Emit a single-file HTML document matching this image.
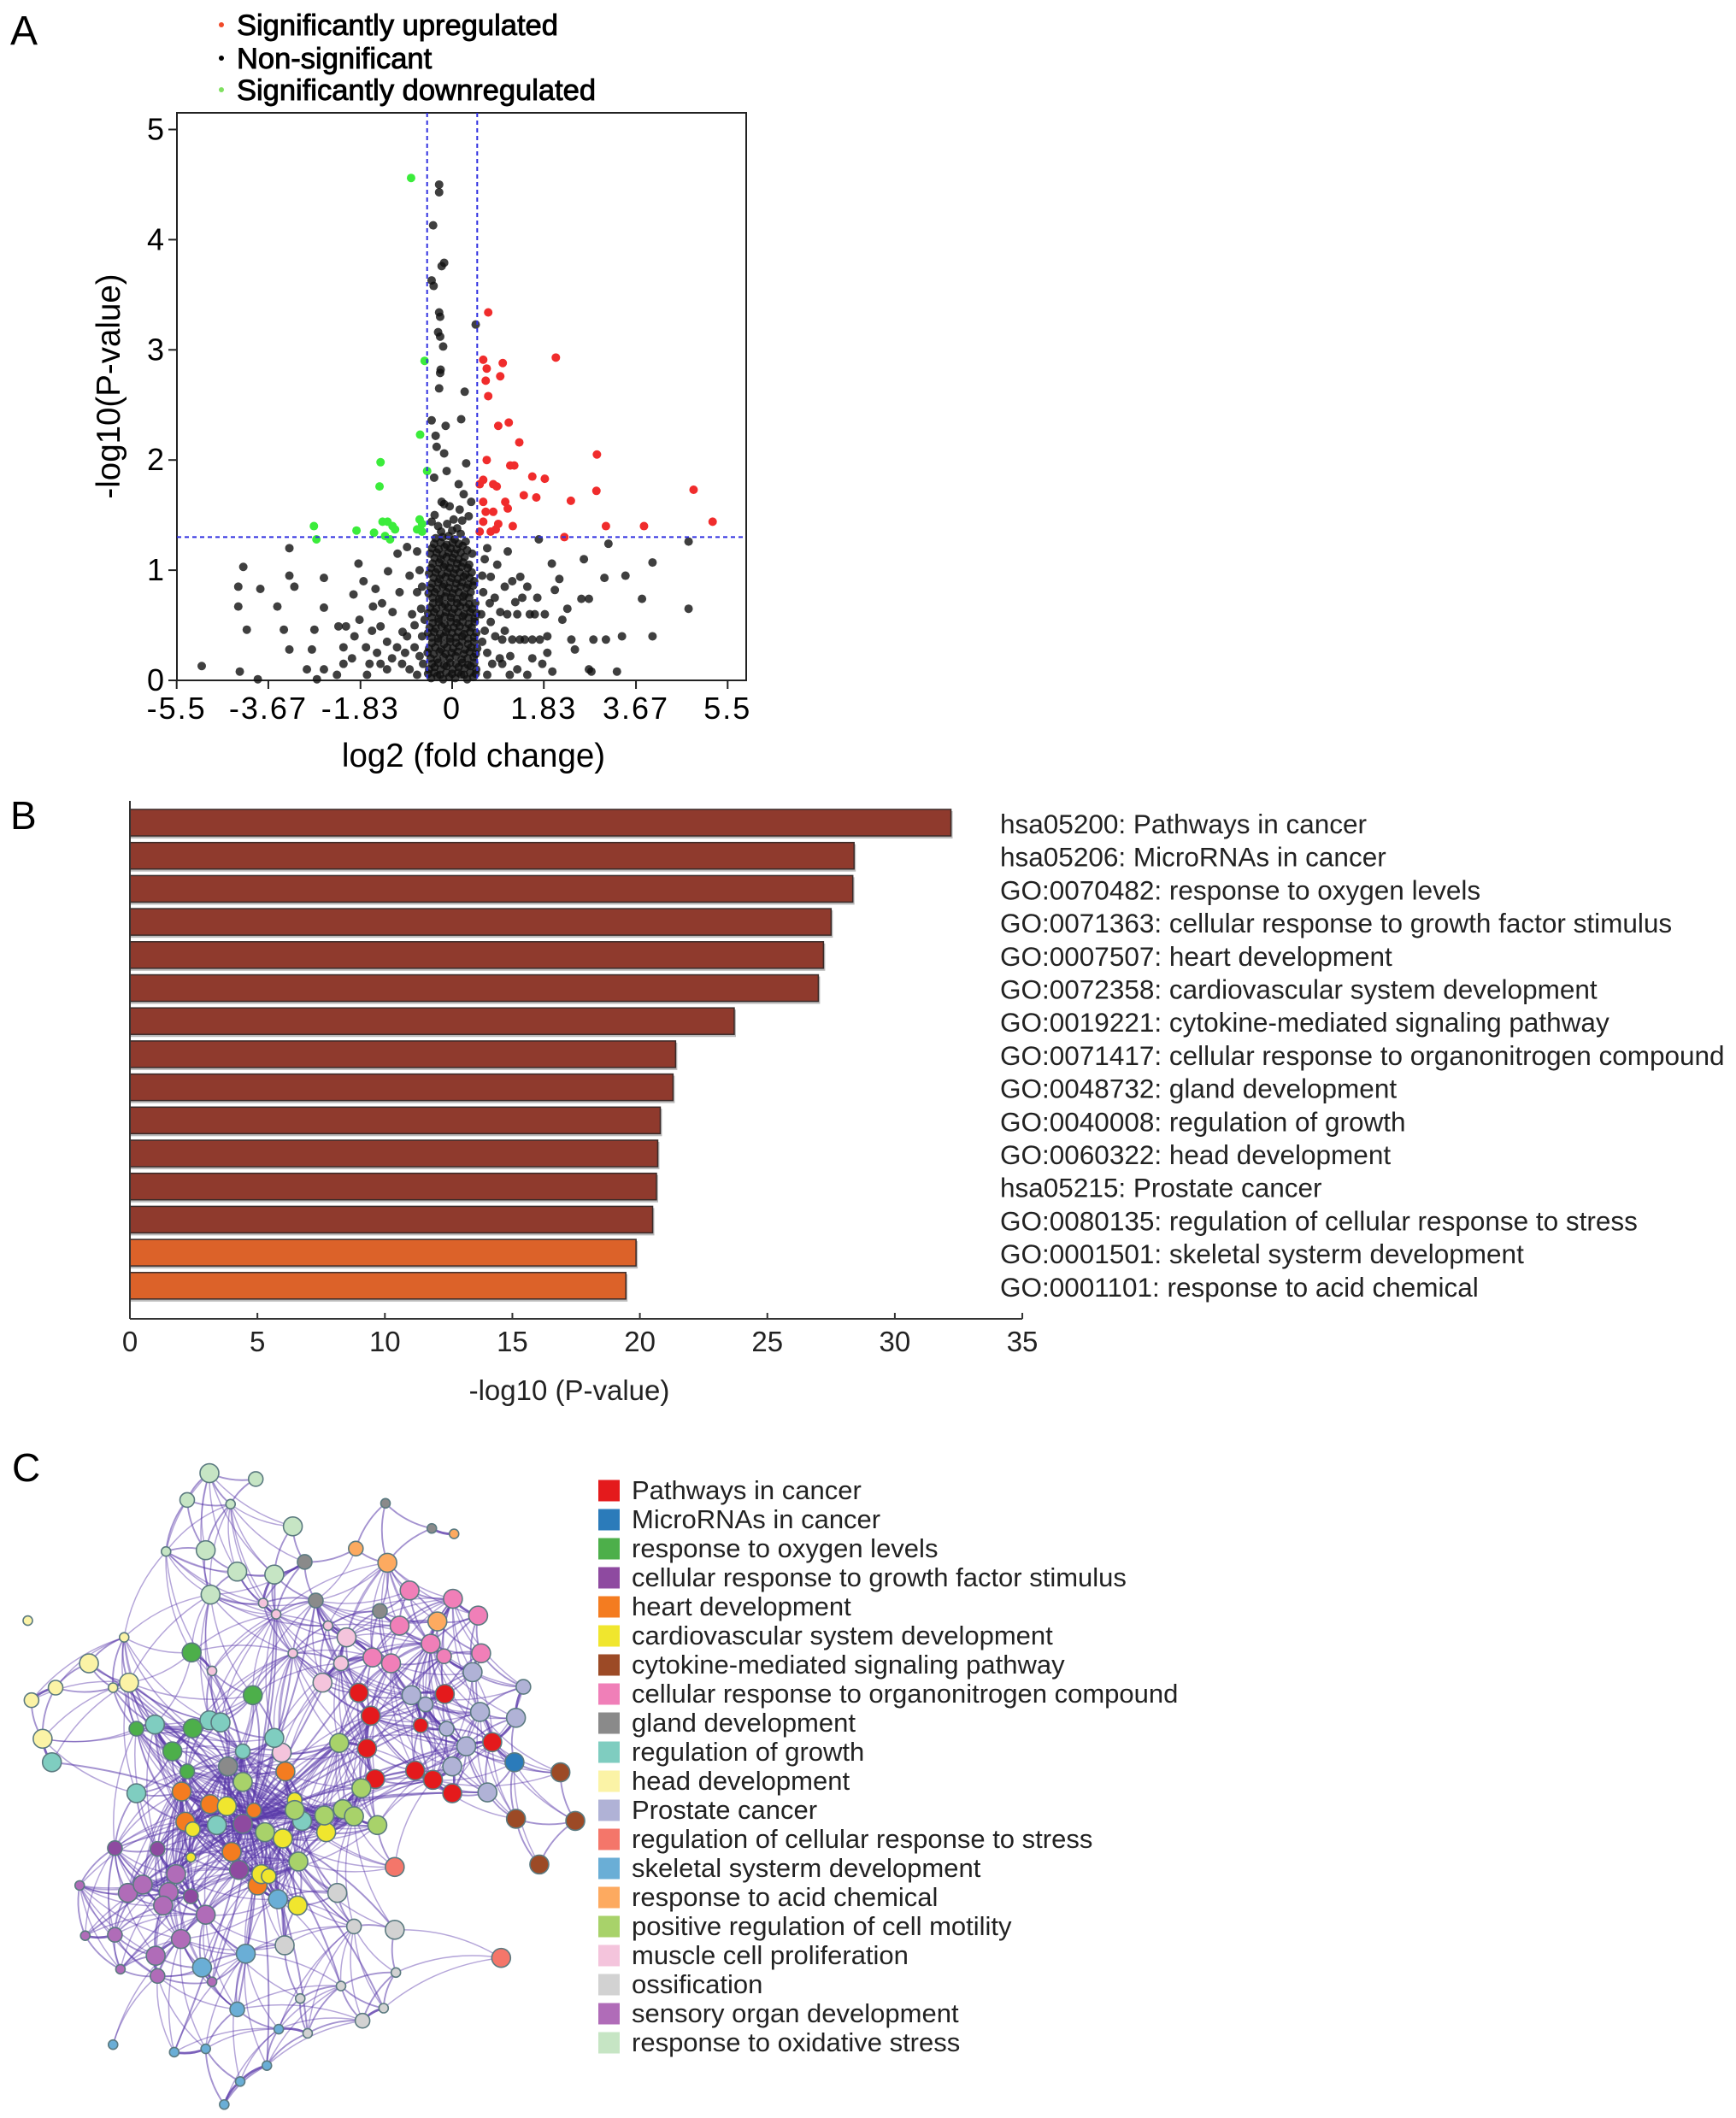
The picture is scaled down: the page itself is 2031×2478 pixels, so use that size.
<!DOCTYPE html>
<html><head><meta charset="utf-8">
<style>
html,body{margin:0;padding:0;background:#fff;}
svg{display:block;font-family:"Liberation Sans",Arial,sans-serif;}
</style></head>
<body>
<svg id="fig" width="2031" height="2478" viewBox="0 0 2031 2478" xmlns="http://www.w3.org/2000/svg">
<g id="panelA">
<text x="12" y="52" font-size="48">A</text>
<g>
<circle cx="259" cy="29" r="3" fill="#f04a2a"/>
<text x="277" y="41" font-size="34.5" stroke="#000" stroke-width="0.9">Significantly upregulated</text>
<circle cx="259" cy="68" r="3" fill="#000"/>
<text x="277" y="80" font-size="34.5" stroke="#000" stroke-width="0.9">Non-significant</text>
<circle cx="259" cy="105" r="3" fill="#7fe060"/>
<text x="277" y="117" font-size="34.5" stroke="#000" stroke-width="0.9">Significantly downregulated</text>
</g>
<g id="volcano"></g>
</g>
<g id="panelB">
<text x="12" y="970" font-size="46">B</text>
<g id="bars"></g>
</g>
<g id="panelC">
<text x="14" y="1733" font-size="46">C</text>
<g id="net"></g>
<g id="netlegend"></g>
</g>
</svg>
<script>
const NS="http://www.w3.org/2000/svg";
function mk(tag,attrs,parent){const e=document.createElementNS(NS,tag);for(const k in attrs)e.setAttribute(k,attrs[k]);parent.appendChild(e);return e;}

/* ---------- Panel A data ---------- */
const xTicks=[-5.5,-3.67,-1.83,0,1.83,3.67,5.5];
const yTicks=[0,1,2,3,4,5];
const fcThreshold=0.5;
const pThreshold=1.3;
const upPoints=[[0.72,3.34],[0.62,2.91],[0.69,2.83],[0.67,2.72],[0.72,2.58],[1.01,2.88],[0.96,2.76],[2.07,2.93],[0.92,2.31],[1.13,2.34],[1.34,2.16],[0.69,2.0],[1.16,1.95],[1.24,1.95],[0.62,1.82],[0.55,1.78],[0.82,1.78],[0.89,1.76],[1.6,1.85],[1.85,1.83],[2.89,2.05],[2.88,1.72],[1.43,1.68],[1.68,1.66],[2.37,1.63],[0.62,1.62],[1.06,1.62],[1.11,1.56],[0.67,1.53],[0.82,1.53],[1.21,1.4],[0.92,1.42],[0.87,1.37],[0.77,1.35],[3.07,1.4],[3.83,1.4],[4.82,1.73],[5.2,1.44],[2.24,1.3],[0.62,1.44],[0.55,1.35]];
const downPoints=[[-0.82,4.56],[-0.55,2.9],[-0.64,2.23],[-1.43,1.98],[-1.45,1.76],[-0.5,1.9],[-0.65,1.46],[-0.6,1.42],[-2.76,1.4],[-2.71,1.28],[-1.91,1.36],[-1.56,1.34],[-1.39,1.44],[-1.29,1.44],[-1.19,1.4],[-1.14,1.37],[-1.34,1.31],[-1.24,1.28],[-0.7,1.37],[-0.6,1.35]];
const nsPoints=[[-0.26,4.5],[-0.26,4.43],[-0.38,4.13],[-0.16,3.79],[-0.21,3.76],[-0.41,3.63],[-0.37,3.58],[-0.26,3.34],[-0.24,3.3],[0.47,3.23],[-0.28,3.16],[-0.24,3.12],[-0.18,3.03],[-0.23,2.82],[-0.24,2.79],[-0.26,2.65],[0.25,2.62],[-0.41,2.36],[0.18,2.37],[-0.13,2.31],[-0.33,2.22],[-0.31,2.12],[-0.16,2.06],[0.28,1.97],[-0.11,1.9],[-0.36,1.84],[0.13,1.78],[0.23,1.69],[-0.21,1.62],[-0.16,1.6],[0.38,1.62],[0.03,1.46],[0.33,1.49],[-0.41,1.44],[0.15,1.55],[-0.05,1.58],
[1.73,1.28],[3.12,1.24],[4.72,1.26],[2.63,1.1],[4.0,1.07],[3.46,0.95],[3.04,0.93],[1.99,1.06],[2.14,0.92],[2.58,0.74],[2.73,0.74],[3.79,0.74],[4.72,0.65],[2.38,0.37],[2.82,0.37],[3.07,0.37],[3.39,0.4],[4.0,0.4],[2.73,0.1],[2.78,0.08],[3.29,0.08],[2.0,0.08],[1.36,0.94],[1.5,0.85],[1.26,0.71],[1.65,0.6],[1.85,0.6],[1.45,0.37],[1.75,0.37],[0.86,0.4],[1.16,0.22],[0.96,0.62],[0.77,0.94],[1.11,1.17],[0.62,0.8],[0.77,0.53],[1.0,0.15],[1.3,0.6],[1.55,0.6],[1.2,0.37],[1.6,0.2],[0.7,0.25],[0.9,1.05],[1.4,0.75],[1.9,0.4],[2.2,0.55],[2.45,0.28],[1.05,0.45],[0.65,1.1],[0.85,0.75],[2.05,0.82],[1.8,0.15],[0.58,0.6],[0.6,0.35],[0.7,0.05],
[1.0,0.37],[1.1,0.6],[1.6,0.37],[1.35,0.37],[0.95,0.2],[1.3,0.1],[1.5,0.05],[0.8,0.15],[0.65,0.45],[0.75,0.7],[1.05,0.85],[0.6,0.95],[0.7,1.2],[1.2,0.9],[1.7,0.75],[2.3,0.65],[1.9,0.25],[1.15,0.05],
[-3.25,1.2],[-4.17,1.03],[-4.27,0.85],[-4.27,0.67],[-4.1,0.46],[-3.83,0.83],[-3.49,0.67],[-3.36,0.46],[-3.25,0.95],[-3.15,0.85],[-3.25,0.28],[-5.0,0.13],[-4.24,0.08],[-3.88,0.01],[-2.56,0.93],[-2.56,0.66],[-2.8,0.28],[-2.7,0.01],[-2.9,0.1],[-2.75,0.46],[-2.27,0.49],[-2.12,0.49],[-2.17,0.3],[-1.87,1.06],[-1.97,0.78],[-1.77,0.9],[-1.53,0.83],[-1.28,0.99],[-1.09,1.15],[-0.9,1.21],[-0.7,1.17],[-1.58,0.67],[-1.43,0.49],[-1.19,0.62],[-0.99,0.44],[-1.72,0.3],[-2.17,0.15],[-2.56,0.1],[-1.43,0.15],[-0.94,0.25],[-0.7,0.8],[-0.8,0.6],[-1.85,0.55],[-1.3,0.35],[-0.6,0.4],[-0.65,1.0],[-1.05,0.8],[-1.6,0.45],[-0.85,0.1],[-1.1,0.3],[-2.0,0.2],[-1.7,0.05],[-0.75,0.3],[-1.3,0.1],[-0.58,0.15],[-0.62,0.65],
[-0.7,0.05],[-0.65,0.22],[-0.9,0.4],[-1.0,0.15],[-0.6,0.85],[-0.75,0.5],[-1.2,0.2],[-1.5,0.25],[-0.55,0.55],[-0.85,0.95],[-1.4,0.7],[-1.65,0.15],[-2.3,0.05],[-1.95,0.4],
[-0.42,0.02],[-0.3,0.04],[-0.18,0.01],[-0.06,0.03],[0.06,0.02],[0.18,0.05],[0.3,0.01],[0.42,0.03],
[-0.46,0.1],[-0.35,0.12],[-0.23,0.1],[-0.11,0.13],[0.01,0.1],[0.13,0.12],[0.25,0.11],[0.37,0.13],[0.48,0.1],
[-0.43,0.2],[-0.3,0.19],[-0.17,0.21],[-0.05,0.2],[0.07,0.22],[0.19,0.19],[0.31,0.2],[0.43,0.21],
[-0.46,0.29],[-0.34,0.3],[-0.22,0.28],[-0.1,0.3],[0.02,0.29],[0.14,0.31],[0.26,0.28],[0.38,0.3],[0.5,0.29],
[-0.41,0.39],[-0.28,0.38],[-0.16,0.4],[-0.04,0.38],[0.08,0.39],[0.2,0.4],[0.32,0.38],[0.44,0.39],
[-0.45,0.48],[-0.33,0.47],[-0.21,0.49],[-0.09,0.47],[0.03,0.48],[0.15,0.49],[0.27,0.47],[0.39,0.48],
[-0.4,0.57],[-0.27,0.56],[-0.15,0.58],[-0.03,0.57],[0.09,0.56],[0.21,0.58],[0.33,0.57],[0.45,0.56],
[-0.44,0.66],[-0.32,0.65],[-0.2,0.67],[-0.08,0.66],[0.04,0.65],[0.16,0.67],[0.28,0.66],[0.4,0.65],
[-0.39,0.75],[-0.26,0.74],[-0.14,0.76],[-0.02,0.75],[0.1,0.74],[0.22,0.76],[0.34,0.75],
[-0.43,0.84],[-0.31,0.83],[-0.19,0.85],[-0.07,0.84],[0.05,0.83],[0.17,0.85],[0.29,0.84],[0.42,0.86],
[-0.37,0.93],[-0.25,0.92],[-0.13,0.94],[-0.01,0.93],[0.11,0.92],[0.23,0.94],[0.35,0.93],
[-0.42,1.02],[-0.29,1.01],[-0.17,1.03],[-0.05,1.02],[0.07,1.01],[0.19,1.03],[0.31,1.02],
[-0.35,1.11],[-0.23,1.1],[-0.11,1.12],[0.01,1.11],[0.13,1.1],[0.25,1.12],[0.4,1.15],
[-0.4,1.2],[-0.27,1.19],[-0.15,1.21],[-0.03,1.2],[0.09,1.19],[0.21,1.22],
[-0.33,1.29],[-0.19,1.3],[-0.07,1.31],[0.05,1.28],[0.17,1.33],[-0.28,1.4],[-0.1,1.42],[0.1,1.38],
[-0.48,0.06],[-0.36,0.07],[-0.24,0.05],[-0.12,0.07],[0.0,0.06],[0.12,0.07],[0.24,0.05],[0.36,0.07],[0.47,0.06],
[-0.4,0.15],[-0.28,0.16],[-0.16,0.14],[-0.04,0.16],[0.08,0.15],[0.2,0.16],[0.32,0.14],[0.44,0.16],
[-0.49,0.25],[-0.37,0.24],[-0.25,0.26],[-0.13,0.24],[-0.01,0.25],[0.11,0.26],[0.23,0.24],[0.35,0.26],[0.47,0.24],
[-0.4,0.34],[-0.28,0.35],[-0.16,0.33],[-0.04,0.35],[0.08,0.34],[0.2,0.35],[0.32,0.33],[0.44,0.35],
[-0.48,0.43],[-0.36,0.44],[-0.24,0.42],[-0.12,0.44],[0.0,0.43],[0.12,0.44],[0.24,0.42],[0.36,0.44],[0.48,0.43],
[-0.39,0.52],[-0.27,0.53],[-0.15,0.51],[-0.03,0.53],[0.09,0.52],[0.21,0.53],[0.33,0.51],[0.45,0.53],
[-0.48,0.61],[-0.36,0.62],[-0.24,0.6],[-0.12,0.62],[0.0,0.61],[0.12,0.62],[0.24,0.6],[0.36,0.62],[0.48,0.61],
[-0.38,0.7],[-0.26,0.71],[-0.14,0.69],[-0.02,0.71],[0.1,0.7],[0.22,0.71],[0.34,0.69],[0.46,0.7],
[-0.47,0.79],[-0.35,0.8],[-0.23,0.78],[-0.11,0.8],[0.01,0.79],[0.13,0.8],[0.25,0.78],[0.37,0.8],
[-0.4,0.88],[-0.28,0.89],[-0.16,0.87],[-0.04,0.89],[0.08,0.88],[0.2,0.89],[0.32,0.87],[0.44,0.9],
[-0.46,0.97],[-0.33,0.98],[-0.21,0.96],[-0.09,0.98],[0.03,0.97],[0.15,0.98],[0.27,0.96],[0.39,0.98],
[-0.39,1.06],[-0.26,1.07],[-0.14,1.05],[-0.02,1.07],[0.1,1.06],[0.22,1.07],[0.34,1.05],
[-0.44,1.15],[-0.31,1.16],[-0.19,1.14],[-0.07,1.16],[0.05,1.15],[0.17,1.16],[0.3,1.18],
[-0.36,1.24],[-0.23,1.25],[-0.11,1.23],[0.01,1.25],[0.13,1.24],[0.27,1.26],[-0.22,1.35],[0.0,1.36],[-0.35,1.5],[0.2,1.45]];

const X=v=>206.7+(v+5.5)/11*644.6;
const Y=v=>796-v*128.9;
const vol=document.getElementById('volcano');
const frame=mk('rect',{x:207,y:132,width:666,height:664,fill:'none',stroke:'#222','stroke-width':2},vol);


xTicks.forEach((t,i)=>{
  const l=mk('line',{x1:X(t),x2:X(t),y1:796,y2:806,stroke:'#222','stroke-width':2},vol);
  
  
  const tx=mk('text',{x:X(t),y:841,'font-size':36,'text-anchor':'middle','letter-spacing':'2'},vol);
  tx.textContent=String(t);
  
  
});
yTicks.forEach(t=>{
  const l=mk('line',{x1:197,x2:207,y1:Y(t),y2:Y(t),stroke:'#222','stroke-width':2},vol);
  
  
  const tx=mk('text',{x:192,y:Y(t)+12,'font-size':36,'text-anchor':'end'},vol);
  tx.textContent=String(t);
  
  
});
const xt=mk('text',{x:554,y:897,'font-size':38.5,'text-anchor':'middle'},vol);
xt.textContent='log2 (fold change)';


const yt=mk('text',{x:0,y:0,'font-size':38.5,'text-anchor':'middle',transform:'translate(140,452) rotate(-90)'},vol);
yt.textContent='-log10(P-value)';


function dot(p,color,name){
  const c=mk('circle',{cx:X(p[0]),cy:Y(p[1]),r:5,fill:color},vol);
  
  
}
nsPoints.forEach(p=>dot(p,'rgba(15,15,15,0.8)','nonsignificant-point'));
upPoints.forEach(p=>dot(p,'#f02c2c','upregulated-point'));
downPoints.forEach(p=>dot(p,'#3bec3b','downregulated-point'));
[-fcThreshold,fcThreshold].forEach(t=>{
  const l=mk('line',{x1:X(t),x2:X(t),y1:132,y2:796,stroke:'#3030e0','stroke-width':2,'stroke-dasharray':'5,4'},vol);
  
  
});
const hl=mk('line',{x1:207,x2:873,y1:Y(pThreshold),y2:Y(pThreshold),stroke:'#3030e0','stroke-width':2,'stroke-dasharray':'5,4'},vol);



/* ---------- Panel B data ---------- */
const termLabels=["hsa05200: Pathways in cancer","hsa05206: MicroRNAs in cancer","GO:0070482: response to oxygen levels","GO:0071363: cellular response to growth factor stimulus","GO:0007507: heart development","GO:0072358: cardiovascular system development","GO:0019221: cytokine-mediated signaling pathway","GO:0071417: cellular response to organonitrogen compound","GO:0048732: gland development","GO:0040008: regulation of growth","GO:0060322: head development","hsa05215: Prostate cancer","GO:0080135: regulation of cellular response to stress","GO:0001501: skeletal systerm development","GO:0001101: response to acid chemical"];
const termValues=[32.2,28.4,28.35,27.5,27.2,27.0,23.7,21.4,21.3,20.8,20.7,20.65,20.5,19.85,19.45];
const barTicks=[0,5,10,15,20,25,30,35];
const BX=v=>152+v*29.83;
const bars=document.getElementById('bars');
termValues.forEach((v,i)=>{
  const y=947+i*38.7;
  const col=i>=13?'#dc6229':'#8f3a2d';
  const sh=mk('rect',{x:152,y:y+2,width:BX(v)-152+2,height:32,fill:'#bbb'},bars);
  
  
  const r=mk('rect',{x:152,y:y,width:BX(v)-152,height:31,fill:col,stroke:'#3a2a28','stroke-width':1.5},bars);
  
  
  const t=mk('text',{x:1170,y:y+28,'font-size':31.5,fill:'#222'},bars);
  t.textContent=termLabels[i];
  
  
});
const yax=mk('line',{x1:152,x2:152,y1:937,y2:1543,stroke:'#333','stroke-width':2},bars);


const xax=mk('line',{x1:152,x2:BX(35),y1:1543,y2:1543,stroke:'#333','stroke-width':2},bars);


barTicks.forEach(t=>{
  const l=mk('line',{x1:BX(t),x2:BX(t),y1:1536,y2:1543,stroke:'#333','stroke-width':2},bars);
  
  
  const tx=mk('text',{x:BX(t),y:1581,'font-size':33,'text-anchor':'middle',fill:'#222'},bars);
  tx.textContent=String(t);
  
  
});
const bt=mk('text',{x:666,y:1638,'font-size':33,'text-anchor':'middle',fill:'#222'},bars);
bt.textContent='-log10 (P-value)';



/* ---------- Panel C ---------- */
const clusterNames=["Pathways in cancer","MicroRNAs in cancer","response to oxygen levels","cellular response to growth factor stimulus","heart development","cardiovascular system development","cytokine-mediated signaling pathway","cellular response to organonitrogen compound","gland development","regulation of growth","head development","Prostate cancer","regulation of cellular response to stress","skeletal systerm development","response to acid chemical","positive regulation of cell motility","muscle cell proliferation","ossification","sensory organ development","response to oxidative stress"];
const clusterColors=["#e41a1c","#2b7bba","#4daf4a","#8e4aa0","#f47c20","#f0e62e","#9c4a26","#f07fb8","#8a8a8a","#7fcdc0","#fbf3a6","#b0b2d6","#f4766a","#6aaed6","#fdaa60","#a8d26a","#f4c4dc","#d2d2d2","#b06cb8","#c6e5c4"];
const nodes=[
[565,48,19,'L'],[690,62,19,'M'],[505,112,19,'M'],[622,122,19,'S'],[790,175,19,'L'],[555,232,19,'L'],[448,235,19,'S'],[640,283,19,'L'],[740,290,19,'L'],[568,338,19,'L'],
[1040,120,8,'S'],[822,260,8,'M'],[852,352,8,'M'],[1025,377,8,'M'],[1165,180,8,'S'],[615,748,8,'L'],
[1225,193,14,'S'],[960,228,14,'M'],[1045,262,14,'L'],[1180,402,14,'L'],
[1105,328,7,'L'],[1222,348,7,'L'],[1290,388,7,'L'],[1078,412,7,'L'],[1162,455,7,'L'],[1298,478,7,'L'],[1005,488,7,'L'],[1055,502,7,'L'],[1198,485,7,'M'],
[710,358,16,'S'],[745,385,16,'S'],[885,412,16,'S'],[935,440,16,'L'],[920,502,16,'M'],[572,520,16,'S'],[870,548,16,'L'],[790,478,16,'S'],[760,715,16,'L'],
[75,400,10,'S'],[335,440,10,'S'],[240,502,10,'L'],[150,560,10,'M'],[348,548,10,'L'],[85,590,10,'M'],[305,560,10,'S'],[115,682,10,'L'],
[140,738,9,'L'],[368,812,9,'L'],[418,648,9,'L'],[565,638,9,'L'],[595,643,9,'L'],[655,712,9,'M'],[740,680,9,'L'],[585,888,9,'L'],[815,878,9,'L'],
[517,476,2,'L'],[682,578,2,'L'],[368,658,2,'M'],[520,657,2,'L'],[465,712,2,'L'],[505,760,2,'M'],
[968,572,0,'L'],[1200,575,0,'L'],[1000,627,0,'L'],[1135,650,0,'M'],[990,705,0,'L'],[1328,690,0,'L'],[1012,778,0,'L'],[1120,758,0,'L'],[1168,780,0,'L'],[1220,812,0,'L'],
[1275,523,11,'L'],[1110,578,11,'L'],[1148,600,11,'M'],[1412,558,11,'M'],[1295,618,11,'L'],[1392,632,11,'L'],[1205,658,11,'M'],[1258,700,11,'L'],[1220,748,11,'L'],[1315,810,11,'L'],
[1388,738,1,'L'],
[1512,762,6,'L'],[1392,873,6,'L'],[1552,878,6,'L'],[1455,982,6,'L'],
[770,760,4,'L'],[490,808,4,'L'],[567,838,4,'L'],[685,853,4,'M'],[500,880,4,'L'],[625,952,4,'L'],[695,1032,4,'L'],
[612,843,5,'L'],[795,828,5,'M'],[520,898,5,'M'],[763,920,5,'L'],[880,905,5,'L'],[515,965,5,'S'],[705,1005,5,'L'],[803,1080,5,'L'],[725,1010,5,'M'],
[915,692,15,'L'],[655,785,15,'L'],[975,800,15,'L'],[795,852,15,'L'],[875,865,15,'L'],[925,850,15,'L'],[955,867,15,'L'],[1018,888,15,'L'],[715,905,15,'L'],[805,975,15,'L'],
[655,885,3,'L'],[645,995,3,'L'],[310,943,3,'M'],[425,945,3,'M'],[515,1058,3,'M'],
[215,1032,18,'S'],[345,1050,18,'L'],[385,1030,18,'L'],[475,1005,18,'L'],[455,1048,18,'L'],[440,1080,18,'L'],[555,1102,18,'L'],[230,1152,18,'S'],[310,1150,18,'M'],[488,1160,18,'L'],[420,1200,18,'L'],[325,1232,18,'S'],[425,1248,18,'M'],[572,1262,18,'S'],
[1065,988,12,'L'],[1352,1205,12,'L'],
[910,1050,17,'L'],[1065,1138,17,'L'],[955,1130,17,'M'],[768,1175,17,'L'],[1068,1240,17,'S'],[920,1272,17,'S'],[810,1302,17,'S'],[1035,1325,17,'S'],[978,1355,17,'M'],[830,1385,17,'S'],
[750,1065,13,'L'],[663,1195,13,'L'],[545,1228,13,'L'],[640,1328,13,'M'],[752,1375,13,'S'],[470,1430,13,'S'],[555,1422,13,'S'],[720,1462,13,'S'],[648,1500,13,'S'],[605,1555,13,'S'],[305,1412,13,'S']
];
const NX=z=>z/2.306, NY=z=>1700+z/2.04;
const sizeR={L:11,M:8.5,S:5.5};
const net=document.getElementById('net');
const eg=mk('g',{},net);


const pts=nodes.map(n=>[NX(n[0]),NY(n[1])]);
for(let i=0;i<pts.length;i++){for(let j=i+1;j<pts.length;j++){
  const dx=pts[i][0]-pts[j][0],dy=pts[i][1]-pts[j][1],d=Math.hypot(dx,dy);
  let draw=false,w=1.5,op=0.45;
  if(d<70){draw=true;w=d<40?2.8:1.9;op=d<40?0.8:0.55;}
  else if(d<150 && (i*7+j*3)%3===0){draw=true;}
  if(!draw)continue;
  const mx=(pts[i][0]+pts[j][0])/2+dy*0.15,my=(pts[i][1]+pts[j][1])/2-dx*0.15;
  const p=mk('path',{d:`M${pts[i][0]},${pts[i][1]} Q${mx},${my} ${pts[j][0]},${pts[j][1]}`,fill:'none',stroke:'#5a3aaa','stroke-width':w,'stroke-opacity':op},eg);
  
  
}}
const hub=[NX(670),NY(880)];
pts.forEach((p,i)=>{
  if(i%2!==0)return;
  const d=Math.hypot(p[0]-hub[0],p[1]-hub[1]);
  if(d<60||d>300)return;
  const e=mk('path',{d:`M${hub[0]},${hub[1]} Q${(hub[0]+p[0])/2+20},${(hub[1]+p[1])/2-20} ${p[0]},${p[1]}`,fill:'none',stroke:'#5a3aaa','stroke-width':2,'stroke-opacity':0.55},eg);
  
  
});
nodes.forEach((n,i)=>{
  const c=mk('circle',{cx:pts[i][0],cy:pts[i][1],r:sizeR[n[3]],fill:clusterColors[n[2]],stroke:'#5b7a80','stroke-width':1.6},net);
  
  
});
const lg=document.getElementById('netlegend');
clusterNames.forEach((nm,i)=>{
  const y=1744+i*34;
  const s=mk('rect',{x:700,y:y-12.5,width:25,height:25,fill:clusterColors[i]},lg);
  
  
  const t=mk('text',{x:739,y:y+10,'font-size':31,fill:'#222'},lg);
  t.textContent=nm;
  
  
});
</script>
</body></html>
